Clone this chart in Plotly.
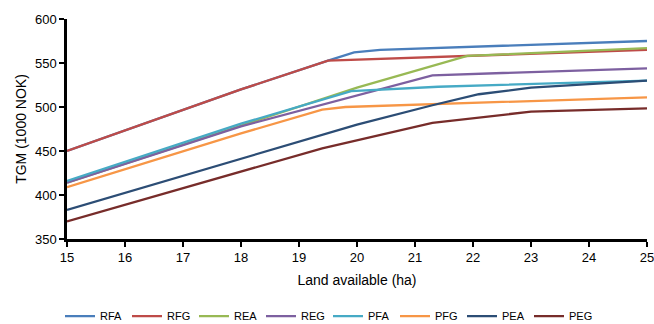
import plotly.graph_objects as go

# Series data (x = land available in ha, y = TGM in 1000 NOK)
rfa_x = [15, 18, 19.5, 19.95, 20.4, 25]
rfa_y = [450, 520, 552.6, 562, 565, 575]

rfg_x = [15, 18, 19.5, 21.4, 25]
rfg_y = [450, 520, 552.6, 557, 565]

rea_x = [15, 18, 20, 21.9, 25]
rea_y = [414, 479, 522, 558, 567]

reg_x = [15, 18, 21.3, 25]
reg_y = [414, 478, 536, 544]

pfa_x = [15, 18, 19.9, 21.4, 25]
pfa_y = [416, 481, 518, 523, 530]

pfg_x = [15, 18, 19.4, 19.8, 25]
pfg_y = [409, 470, 497, 500, 511]

pea_x = [15, 20, 21.3, 22.1, 23, 25]
pea_y = [383, 480, 502, 514.5, 522, 530]

peg_x = [15, 19.4, 21.3, 23, 25]
peg_y = [370, 453, 482, 494.7, 498.5]

names = ["RFA", "RFG", "REA", "REG", "PFA", "PFG", "PEA", "PEG"]
colors = ["#4A7EBB", "#BE4B48", "#98B954", "#7D60A0", "#46AAC5", "#F79646", "#2C4D75", "#772C2A"]
xs = [rfa_x, rfg_x, rea_x, reg_x, pfa_x, pfg_x, pea_x, peg_x]
ys = [rfa_y, rfg_y, rea_y, reg_y, pfa_y, pfg_y, pea_y, peg_y]

x_ticks = list(range(15, 26))
y_ticks = [350, 400, 450, 500, 550, 600]

fig = go.Figure()
for n, c, x, y in zip(names, colors, xs, ys):
    fig.add_trace(go.Scatter(x=x, y=y, name=n, mode="lines",
                             line=dict(color=c, width=2.3)))

font = "Liberation Sans"
fig.update_layout(
    width=654, height=324,
    margin=dict(l=67, r=7, t=19, b=85, autoexpand=False),
    paper_bgcolor="white", plot_bgcolor="white",
    font=dict(family=font, size=13, color="#000"),
    showlegend=True,
    legend=dict(orientation="h", x=0.45, xanchor="center",
                y=-0.285, yanchor="top", entrywidth=22, entrywidthmode="pixels",
                font=dict(size=11), itemwidth=30, tracegroupgap=0,
                bgcolor="rgba(0,0,0,0)"),
    xaxis=dict(range=[15, 25], tickvals=x_ticks, showgrid=False, zeroline=False,
               showline=True, linecolor="black", linewidth=2.5,
               ticks="outside", ticklen=5, tickwidth=1.5, tickcolor="black",
               ticklabeloverflow="allow",
               title=dict(text="Land available (ha)", font=dict(size=14), standoff=11)),
    yaxis=dict(range=[350, 600], tickvals=y_ticks, showgrid=False, zeroline=False,
               showline=True, linecolor="black", linewidth=2.5,
               ticks="outside", ticklen=5, tickwidth=1.5, tickcolor="black",
               title=dict(text="TGM (1000 NOK)", font=dict(size=14), standoff=6)),
)

fig.write_html("out.html")
